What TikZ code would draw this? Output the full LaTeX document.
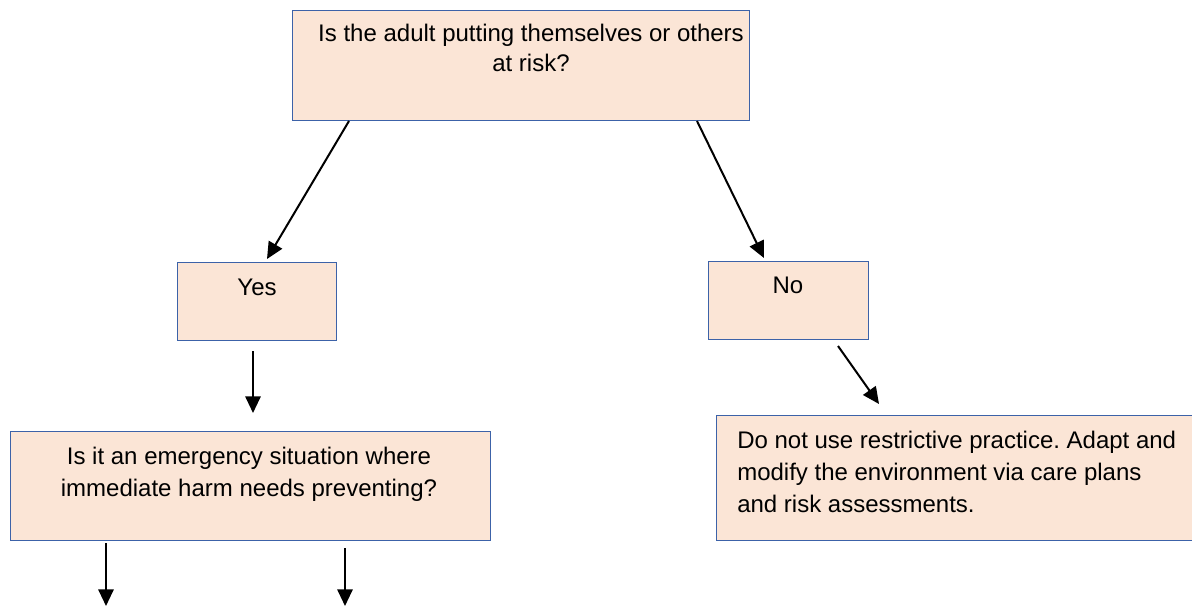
\documentclass[tikz,border=0pt]{standalone}
\usepackage{fontspec}
\setmainfont{Liberation Sans}
\usetikzlibrary{arrows.meta}
\definecolor{boxfill}{HTML}{FBE5D6}
\definecolor{boxline}{RGB}{60,98,168}
\frenchspacing
\begin{document}
\begin{tikzpicture}[x=0.75pt,y=-0.75pt,
  box/.style={draw=boxline, line width=0.75pt, fill=boxfill, inner sep=0pt, anchor=north west},
  txt/.style={inner sep=0pt, font=\fontsize{18}{24}\selectfont},
  arr/.style={line width=1.5pt, -{Triangle[length=12.5pt,width=11.5pt]}}]
\useasboundingbox (0,0) rectangle (1192,606);
% boxes
\node[box, minimum width={457*0.75pt}, minimum height={110*0.75pt}] (q1) at (292,10) {};
\node[box, minimum width={159*0.75pt}, minimum height={78*0.75pt}] (yes) at (177,262) {};
\node[box, minimum width={160*0.75pt}, minimum height={78*0.75pt}] (no) at (708,261) {};
\node[box, minimum width={480*0.75pt}, minimum height={125*0.75pt}] (dont) at (716,415) {};
\node[box, minimum width={480*0.75pt}, minimum height={109*0.75pt}] (q2) at (10,431) {};
% texts
\node[txt, anchor=base] (q1t) at (531,42) {\parbox[t]{420pt}{\centering\fontsize{18}{22.5}\selectfont Is the adult putting themselves or others\\ at risk?}};
\node[txt, anchor=base] (yest) at (257,295) {Yes};
\node[txt, anchor=base] (not) at (788,293) {No};
\node[txt, anchor=base] (q2t) at (249,464) {\parbox[t]{340pt}{\centering Is it an emergency situation where\\ immediate harm needs preventing?}};
\node[txt, anchor=base west] (dontt) at (737,448) {\parbox[t]{345pt}{\raggedright Do not use restrictive practice. Adapt and\\ modify the environment via care plans\\ and risk assessments.}};
% connector ends
\coordinate (a1s) at (349,121); \coordinate (a1e) at (267,259);
\coordinate (a2s) at (697,121); \coordinate (a2e) at (764,258);
\coordinate (a3s) at (253,351); \coordinate (a3e) at (253,413);
\coordinate (a4s) at (838,346); \coordinate (a4e) at (879,404);
\coordinate (a5s) at (106,543); \coordinate (a5e) at (106,606);
\coordinate (a6s) at (345,548); \coordinate (a6e) at (345,606);
\draw[arr] (a1s) -- (a1e);
\draw[arr] (a2s) -- (a2e);
\draw[arr] (a3s) -- (a3e);
\draw[arr] (a4s) -- (a4e);
\draw[arr] (a5s) -- (a5e);
\draw[arr] (a6s) -- (a6e);
\end{tikzpicture}
\end{document}
